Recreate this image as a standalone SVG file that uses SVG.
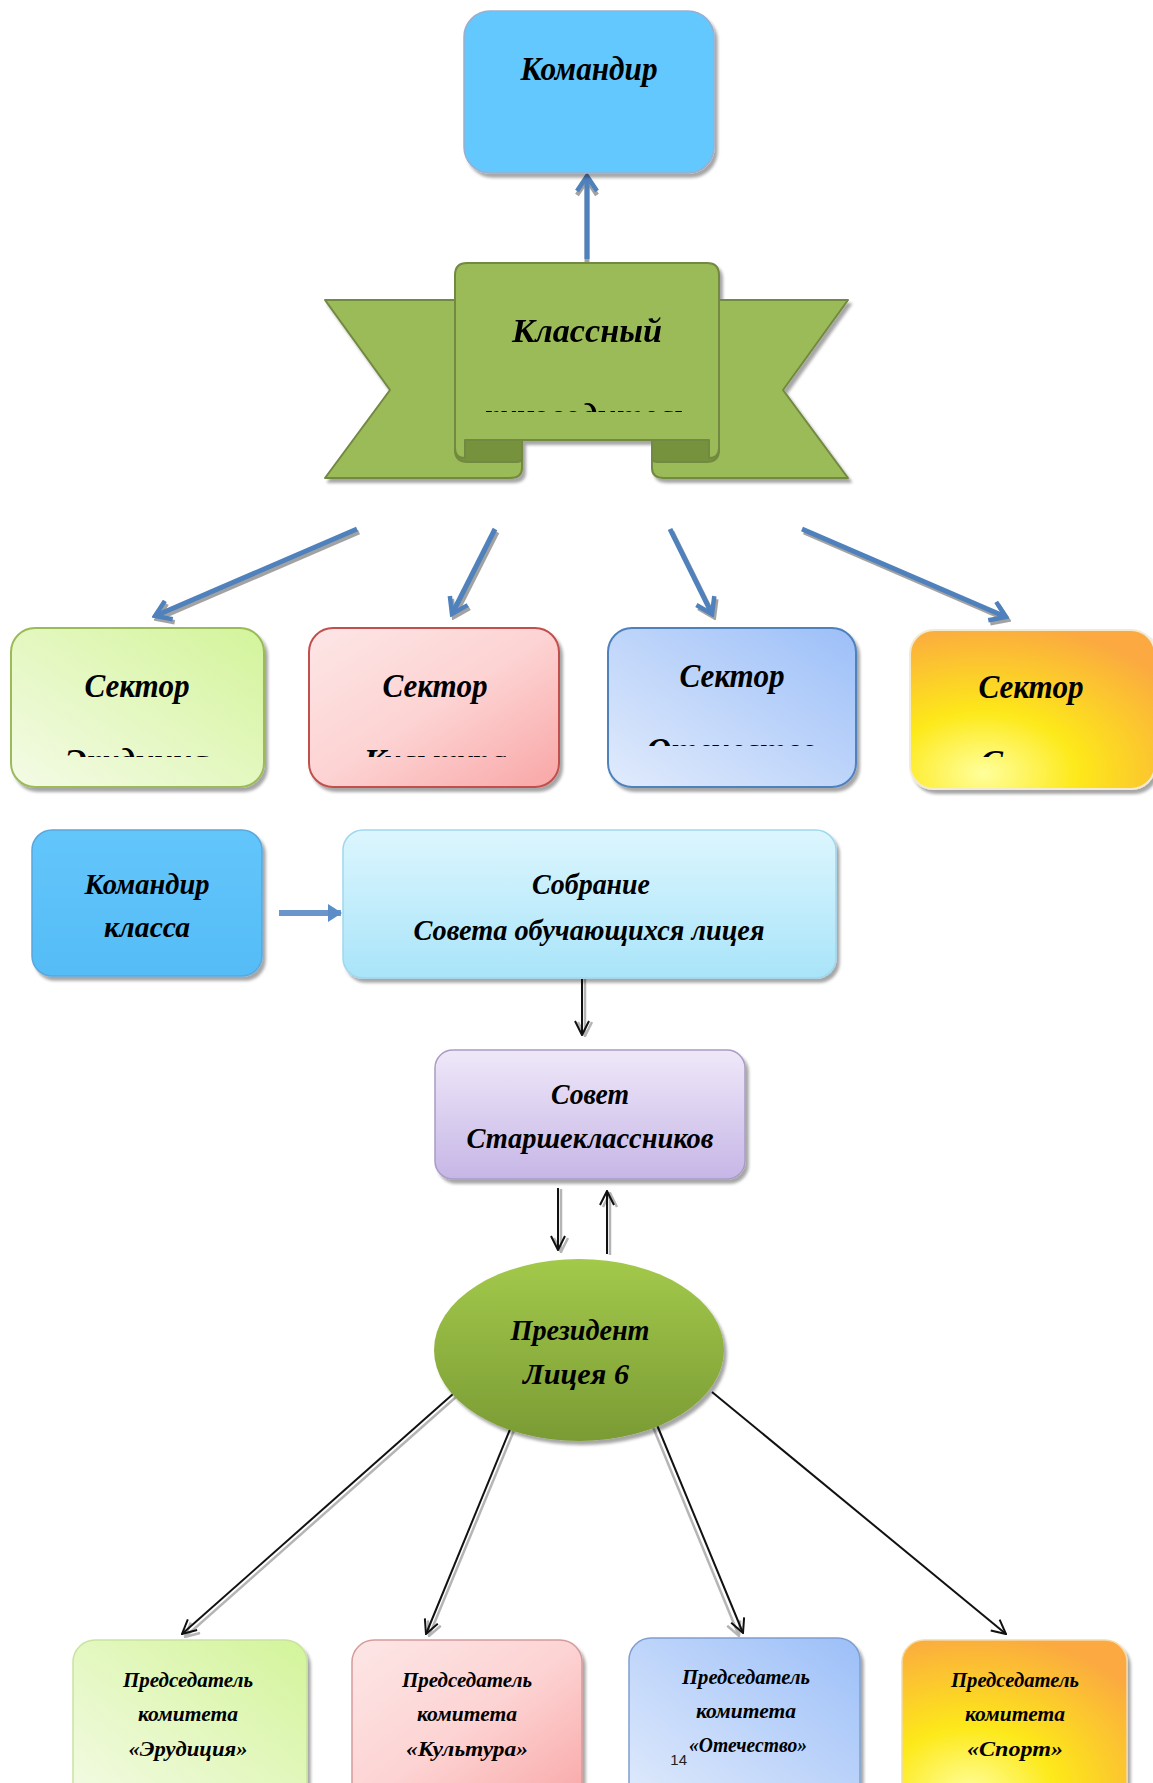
<svg xmlns="http://www.w3.org/2000/svg" width="1153" height="1783" viewBox="0 0 1153 1783">
<style>
.t{font-family:"Liberation Serif","DejaVu Serif",serif;font-style:italic;font-weight:bold;fill:#000;text-anchor:middle}
.blue{stroke:#4F81BD;stroke-width:5;fill:none}
.bsh{stroke:#8c8c8c;stroke-width:5;fill:none;opacity:0.8}
.blk{stroke:#111;stroke-width:2;fill:none}
.gry{stroke:#b5b5b5;stroke-width:2.5;fill:none}
</style>
<defs>
<filter id="sh" x="-10%" y="-10%" width="125%" height="125%">
<feDropShadow dx="3" dy="4" stdDeviation="1.5" flood-color="#000" flood-opacity="0.35"/>
</filter>
<marker id="ab" viewBox="0 0 20 24" refX="17" refY="12" markerWidth="20" markerHeight="24" markerUnits="userSpaceOnUse" orient="auto">
<path d="M2,2 L17,12 L2,22" fill="none" stroke="#4F81BD" stroke-width="4.5"/>
</marker>
<marker id="abs" viewBox="0 0 20 24" refX="17" refY="12" markerWidth="20" markerHeight="24" markerUnits="userSpaceOnUse" orient="auto">
<path d="M2,2 L17,12 L2,22" fill="none" stroke="#8c8c8c" stroke-width="4.5"/>
</marker>
<marker id="ak" viewBox="0 0 16 16" refX="15" refY="8" markerWidth="16" markerHeight="16" markerUnits="userSpaceOnUse" orient="auto">
<path d="M1,1 L15,8 L1,15" fill="none" stroke="#111" stroke-width="2"/>
</marker>
<marker id="ag" viewBox="0 0 16 16" refX="15" refY="8" markerWidth="16" markerHeight="16" markerUnits="userSpaceOnUse" orient="auto">
<path d="M1,1 L15,8 L1,15" fill="none" stroke="#b5b5b5" stroke-width="2.5"/>
</marker>
<marker id="af" viewBox="0 0 14 18" refX="13" refY="9" markerWidth="14" markerHeight="18" markerUnits="userSpaceOnUse" orient="auto">
<path d="M0,0 L14,9 L0,18 Z" fill="#5b8dc6"/>
</marker>
<linearGradient id="gGreen" x1="0" y1="1" x2="1" y2="0">
<stop offset="0" stop-color="#f4fbe6"/><stop offset="1" stop-color="#d3f49a"/>
</linearGradient>
<linearGradient id="gPink" x1="0" y1="0" x2="1" y2="1">
<stop offset="0" stop-color="#fde6e6"/><stop offset="0.5" stop-color="#fdd3d3"/><stop offset="1" stop-color="#f9a6a6"/>
</linearGradient>
<linearGradient id="gBlue" x1="0" y1="1" x2="1" y2="0">
<stop offset="0" stop-color="#e1ebfc"/><stop offset="1" stop-color="#9cbff8"/>
</linearGradient>
<radialGradient id="gOrange" cx="0.3" cy="0.9" r="0.95">
<stop offset="0" stop-color="#ffff9c"/><stop offset="0.4" stop-color="#fde91a"/><stop offset="1" stop-color="#fba940"/>
</radialGradient>
<linearGradient id="gCmd" x1="0" y1="0" x2="0" y2="1">
<stop offset="0" stop-color="#63c6fb"/><stop offset="1" stop-color="#55bcf6"/>
</linearGradient>
<linearGradient id="gCyan" x1="0" y1="0" x2="0" y2="1">
<stop offset="0" stop-color="#dcf6fe"/><stop offset="1" stop-color="#a9e4f9"/>
</linearGradient>
<linearGradient id="gLav" x1="0" y1="0" x2="0" y2="1">
<stop offset="0" stop-color="#efe8f9"/><stop offset="1" stop-color="#c6b6e6"/>
</linearGradient>
<linearGradient id="gEll" x1="0" y1="0" x2="0" y2="1">
<stop offset="0" stop-color="#a3c94b"/><stop offset="1" stop-color="#7a9b34"/>
</linearGradient>
<clipPath id="cRib"><rect x="455" y="380" width="264" height="32"/></clipPath>
<clipPath id="cS1"><rect x="11" y="720" width="253" height="37"/></clipPath>
<clipPath id="cS2"><rect x="309" y="720" width="250" height="37"/></clipPath>
<clipPath id="cS3"><rect x="608" y="710" width="248" height="36"/></clipPath>
<clipPath id="cS4"><rect x="910" y="720" width="243" height="37"/></clipPath>
</defs>

<g id="connectors">
<line x1="589" y1="260" x2="589" y2="178" class="bsh" marker-end="url(#abs)" transform="translate(-2,2)"/>
<line x1="587" y1="259" x2="587" y2="176" class="blue" marker-end="url(#ab)"/>
<g transform="translate(2,3)">
<line x1="357" y1="529" x2="155" y2="616" class="bsh" marker-end="url(#abs)"/>
<line x1="495" y1="529" x2="452" y2="614" class="bsh" marker-end="url(#abs)"/>
<line x1="670" y1="529" x2="712" y2="614" class="bsh" marker-end="url(#abs)"/>
<line x1="802" y1="529" x2="1006" y2="617" class="bsh" marker-end="url(#abs)"/>
</g>
<line x1="357" y1="529" x2="155" y2="616" class="blue" marker-end="url(#ab)"/>
<line x1="495" y1="529" x2="452" y2="614" class="blue" marker-end="url(#ab)"/>
<line x1="670" y1="529" x2="712" y2="614" class="blue" marker-end="url(#ab)"/>
<line x1="802" y1="529" x2="1006" y2="617" class="blue" marker-end="url(#ab)"/>
<line x1="279" y1="913" x2="341" y2="913" stroke="#6a96cb" stroke-width="6" marker-end="url(#af)"/>
<line x1="585" y1="979" x2="585" y2="1036" class="gry" marker-end="url(#ag)"/>
<line x1="582" y1="979" x2="582" y2="1035" class="blk" marker-end="url(#ak)"/>
<line x1="561" y1="1189" x2="561" y2="1252" class="gry" marker-end="url(#ag)"/>
<line x1="558" y1="1188" x2="558" y2="1250" class="blk" marker-end="url(#ak)"/>
<line x1="610" y1="1255" x2="610" y2="1193" class="gry" marker-end="url(#ag)"/>
<line x1="607" y1="1254" x2="607" y2="1191" class="blk" marker-end="url(#ak)"/>
<line x1="456" y1="1397" x2="185" y2="1637" class="gry" marker-end="url(#ag)"/>
<line x1="453" y1="1394" x2="182" y2="1634" class="blk" marker-end="url(#ak)"/>
<line x1="515" y1="1428" x2="429" y2="1636" class="gry" marker-end="url(#ag)"/>
<line x1="511" y1="1427" x2="426" y2="1634" class="blk" marker-end="url(#ak)"/>
<line x1="653" y1="1427" x2="739" y2="1636" class="gry" marker-end="url(#ag)"/>
<line x1="657" y1="1425" x2="743" y2="1633" class="blk" marker-end="url(#ak)"/>
<line x1="712" y1="1392" x2="1006" y2="1634" class="blk" marker-end="url(#ak)"/>
</g>

<g id="commander">
<rect x="464" y="11" width="250" height="162" rx="26" fill="#63c8fd" stroke="#9aaed0" stroke-width="1.5" filter="url(#sh)"/>
<text class="t" x="589" y="80" font-size="33" textLength="137" lengthAdjust="spacingAndGlyphs">Командир</text>
</g>

<g id="class-teacher" filter="url(#sh)">
<path d="M325,300 H470 V458 H522 V468 Q522,478 510,478 H325 L390,390 Z" fill="#9BBB59" stroke="#71893F" stroke-width="2" stroke-linejoin="round"/>
<path d="M848,300 H704 V458 H652 V468 Q652,478 664,478 H848 L783,390 Z" fill="#9BBB59" stroke="#71893F" stroke-width="2" stroke-linejoin="round"/>
<path d="M455,440 H522 V458 Q522,462 516,462 H468 Q455,462 455,450 Z" fill="#76923C" stroke="#71893F" stroke-width="2"/>
<path d="M719,440 H652 V458 Q652,462 658,462 H706 Q719,462 719,450 Z" fill="#76923C" stroke="#71893F" stroke-width="2"/>
<path d="M467,263 H707 Q719,263 719,275 V448 Q719,458 709,458 V440 H465 V458 Q455,458 455,448 V275 Q455,263 467,263 Z" fill="#9BBB59" stroke="#71893F" stroke-width="2" stroke-linejoin="round"/>
<text class="t" x="587" y="342" font-size="34" textLength="150" lengthAdjust="spacingAndGlyphs">Классный</text>
<text class="t" x="587" y="427" font-size="34" clip-path="url(#cRib)">руководитель</text>
</g>

<g id="sector-1">
<rect x="11" y="628" width="253" height="159" rx="24" fill="url(#gGreen)" stroke="#9BBB59" stroke-width="2" filter="url(#sh)"/>
<text class="t" x="137" y="697" font-size="34" textLength="105" lengthAdjust="spacingAndGlyphs">Сектор</text>
<text class="t" x="137" y="772" font-size="34" clip-path="url(#cS1)">Эрудиция</text>
</g>
<g id="sector-2">
<rect x="309" y="628" width="250" height="159" rx="24" fill="url(#gPink)" stroke="#c0504d" stroke-width="2" filter="url(#sh)"/>
<text class="t" x="435" y="697" font-size="34" textLength="105" lengthAdjust="spacingAndGlyphs">Сектор</text>
<text class="t" x="435" y="772" font-size="34" clip-path="url(#cS2)">Культура</text>
</g>
<g id="sector-3">
<rect x="608" y="628" width="248" height="159" rx="24" fill="url(#gBlue)" stroke="#4F81BD" stroke-width="2" filter="url(#sh)"/>
<text class="t" x="732" y="687" font-size="34" textLength="105" lengthAdjust="spacingAndGlyphs">Сектор</text>
<text class="t" x="732" y="761" font-size="34" clip-path="url(#cS3)">Отечество</text>
</g>
<g id="sector-4">
<rect x="910" y="630" width="245" height="159" rx="24" fill="url(#gOrange)" stroke="#f3ead0" stroke-width="2" filter="url(#sh)"/>
<text class="t" x="1031" y="698" font-size="34" textLength="105" lengthAdjust="spacingAndGlyphs">Сектор</text>
<text class="t" x="1031" y="773" font-size="34" clip-path="url(#cS4)">Спорт</text>
</g>

<g id="class-commander">
<rect x="32" y="830" width="230" height="146" rx="20" fill="url(#gCmd)" stroke="#5aa7dc" stroke-width="1.5" filter="url(#sh)"/>
<text class="t" x="147" y="894" font-size="29" textLength="125" lengthAdjust="spacingAndGlyphs">Командир</text>
<text class="t" x="147" y="937" font-size="29" textLength="86" lengthAdjust="spacingAndGlyphs">класса</text>
</g>

<g id="assembly">
<rect x="343" y="830" width="493" height="148" rx="20" fill="url(#gCyan)" stroke="#9fd8ee" stroke-width="1.5" filter="url(#sh)"/>
<text class="t" x="591" y="894" font-size="29" textLength="118" lengthAdjust="spacingAndGlyphs">Собрание</text>
<text class="t" x="589" y="940" font-size="29" textLength="351" lengthAdjust="spacingAndGlyphs">Совета обучающихся лицея</text>
</g>

<g id="council">
<rect x="435" y="1050" width="310" height="129" rx="18" fill="url(#gLav)" stroke="#a99cc4" stroke-width="1.5" filter="url(#sh)"/>
<text class="t" x="590" y="1104" font-size="30" textLength="78" lengthAdjust="spacingAndGlyphs">Совет</text>
<text class="t" x="590" y="1148" font-size="30" textLength="247" lengthAdjust="spacingAndGlyphs">Старшеклассников</text>
</g>

<g id="president">
<ellipse cx="579" cy="1350" rx="145" ry="91" fill="url(#gEll)" filter="url(#sh)"/>
<text class="t" x="580" y="1340" font-size="29" textLength="139" lengthAdjust="spacingAndGlyphs">Президент</text>
<text class="t" x="576" y="1384" font-size="29" textLength="106" lengthAdjust="spacingAndGlyphs">Лицея 6</text>
</g>

<g id="committee-1">
<rect x="73" y="1640" width="234" height="170" rx="22" fill="url(#gGreen)" stroke="#c8e3a0" stroke-width="1.5" filter="url(#sh)"/>
<text class="t" x="188" y="1687" font-size="22" textLength="130" lengthAdjust="spacingAndGlyphs">Председатель</text>
<text class="t" x="188" y="1721" font-size="22" textLength="100" lengthAdjust="spacingAndGlyphs">комитета</text>
<text class="t" x="188" y="1756" font-size="22" textLength="119" lengthAdjust="spacingAndGlyphs">«Эрудиция»</text>
</g>
<g id="committee-2">
<rect x="352" y="1640" width="230" height="170" rx="22" fill="url(#gPink)" stroke="#d69a9a" stroke-width="1.5" filter="url(#sh)"/>
<text class="t" x="467" y="1687" font-size="22" textLength="130" lengthAdjust="spacingAndGlyphs">Председатель</text>
<text class="t" x="467" y="1721" font-size="22" textLength="100" lengthAdjust="spacingAndGlyphs">комитета</text>
<text class="t" x="467" y="1756" font-size="22" textLength="122" lengthAdjust="spacingAndGlyphs">«Культура»</text>
</g>
<g id="committee-3">
<rect x="629" y="1638" width="231" height="170" rx="22" fill="url(#gBlue)" stroke="#7f9ed0" stroke-width="1.5" filter="url(#sh)"/>
<text class="t" x="746" y="1684" font-size="22" textLength="128" lengthAdjust="spacingAndGlyphs">Председатель</text>
<text class="t" x="746" y="1718" font-size="22" textLength="100" lengthAdjust="spacingAndGlyphs">комитета</text>
<text class="t" x="748" y="1752" font-size="22" textLength="118" lengthAdjust="spacingAndGlyphs">«Отечество»</text>
<text x="687" y="1765" font-family="Liberation Sans, Arial, sans-serif" font-size="15" fill="#222" text-anchor="end">14</text>
</g>
<g id="committee-4">
<rect x="902" y="1640" width="225" height="170" rx="22" fill="url(#gOrange)" stroke="#f2dcaa" stroke-width="1.5" filter="url(#sh)"/>
<text class="t" x="1015" y="1687" font-size="22" textLength="128" lengthAdjust="spacingAndGlyphs">Председатель</text>
<text class="t" x="1015" y="1721" font-size="22" textLength="100" lengthAdjust="spacingAndGlyphs">комитета</text>
<text class="t" x="1015" y="1756" font-size="22" textLength="96" lengthAdjust="spacingAndGlyphs">«Спорт»</text>
</g>
</svg>
